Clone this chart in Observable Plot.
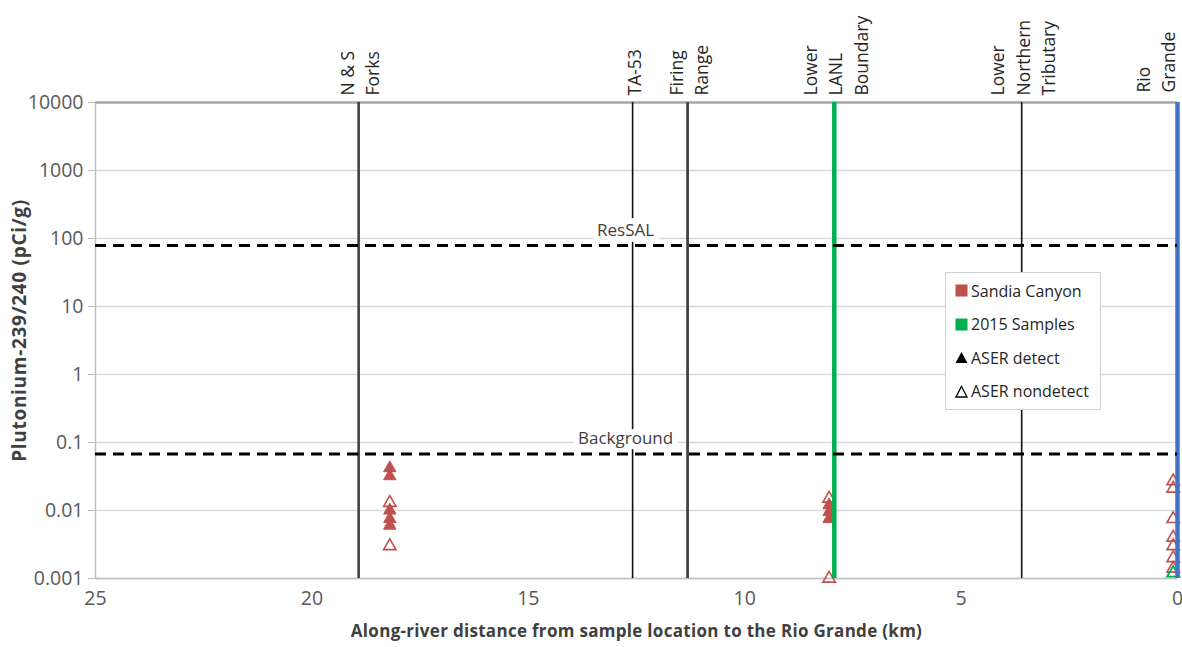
<!DOCTYPE html>
<html><head><meta charset="utf-8">
<script src="https://cdn.jsdelivr.net/npm/d3@7"></script>
<script src="https://cdn.jsdelivr.net/npm/@observablehq/plot@0.6"></script>
<style>
body{margin:0;background:#fff;font-family:"Open Sans",sans-serif}
#wrap{position:relative;width:1182px;height:647px;overflow:hidden}
#legend{position:absolute;left:945px;top:272px;width:156px;height:138px;border:1px solid #d0d0d0;background:#fff;box-sizing:border-box;padding:1px 0 0 9px;font-size:16px;color:#262626}
#legend div{height:33.5px;display:flex;align-items:center;white-space:nowrap}
#legend svg{margin-right:3px}
</style></head><body><div id="wrap"><div id="legend"></div></div>
<script>
// ---- data ----
const locationNames = ["N & S\nForks", "TA-53", "Firing\nRange", "Lower\nLANL\nBoundary", "Lower\nNorthern\nTributary", "Rio\nGrande"];
const locationKm = [18.92, 12.59, 11.32, 7.93, 3.6, 0];

const limitNames = ["ResSAL", "Background"];
const limitValues = [79, 0.068];

// Sandia Canyon, ASER detect (filled)
const detectKm = [18.2, 18.2, 18.2, 18.2, 18.2, 8.05, 8.05, 8.05];
const detectPu = [0.042, 0.032, 0.010, 0.0075, 0.006, 0.012, 0.0095, 0.0075];
// Sandia Canyon, ASER nondetect (open)
const nondetectKm = [18.2, 18.2, 8.05, 8.05, 0.1, 0.1, 0.1, 0.1, 0.1, 0.1, 0.1];
const nondetectPu = [0.013, 0.003, 0.015, 0.001, 0.027, 0.021, 0.0075, 0.004, 0.003, 0.002, 0.0014];
// 2015 Samples (nondetect)
const samples2015Km = [0.1];
const samples2015Pu = [0.0012];

const yTicks = [0.001, 0.01, 0.1, 1, 10, 100, 1000, 10000];
const xTicks = [0, 5, 10, 15, 20, 25];
const xTitle = "Along-river distance from sample location to the Rio Grande (km)";
const yTitle = "Plutonium-239/240 (pCi/g)";
const legendItems = ["Sandia Canyon", "2015 Samples", "ASER detect", "ASER nondetect"];

// ---- styles ----
const red = "#c0504d", green = "#00b050", blue = "#4472c4";
const lineStyles = {
  "N & S\nForks": {stroke: "#3a3a3a", w: 2.5},
  "TA-53": {stroke: "#111", w: 1.6},
  "Firing\nRange": {stroke: "#444", w: 2.8},
  "Lower\nLANL\nBoundary": {stroke: green, w: 4.5},
  "Lower\nNorthern\nTributary": {stroke: "#111", w: 1.6},
  "Rio\nGrande": {stroke: blue, w: 4.5}
};

const locations = locationNames.map((n, i) => ({name: n, km: locationKm[i]}));
const limits = limitNames.map((n, i) => ({name: n, v: limitValues[i]}));
const detect = detectKm.map((k, i) => ({km: k, v: detectPu[i]}));
const nondetect = nondetectKm.map((k, i) => ({km: k, v: nondetectPu[i]}));
const s2015 = samples2015Km.map((k, i) => ({km: k, v: samples2015Pu[i]}));
const taKm = locationKm[1];

const chart = Plot.plot({
  width: 1182, height: 647,
  marginLeft: 95, marginRight: 5, marginTop: 102, marginBottom: 69,
  style: {fontFamily: "Open Sans, sans-serif", fontSize: "19px", color: "#595959", background: "#fff"},
  x: {domain: [0, 25], reverse: true, ticks: xTicks, tickFormat: d => String(d)},
  y: {type: "log", domain: [0.001, 10000], ticks: yTicks, tickFormat: d => String(d)},
  marks: [
    Plot.ruleY(yTicks.slice(0, -1), {stroke: "#d9d9d9", strokeWidth: 1.5}),
    Plot.ruleY([10000], {stroke: "#a6a6a6", strokeWidth: 2.5}),
    Plot.ruleY([0.001], {stroke: "#bfbfbf", strokeWidth: 1.5}),
    Plot.ruleX([25], {stroke: "#bfbfbf", strokeWidth: 1.5}),
    Plot.axisY({ticks: yTicks, tickFormat: d => String(d), tickSize: 7, tickPadding: 5, stroke: "#bfbfbf", fill: "#595959", fontSize: 19.5, label: null}),
    Plot.axisX({ticks: xTicks, tickFormat: d => String(d), tickSize: 0, tickPadding: 13, fill: "#595959", fontSize: 19.5, label: null}),
    Plot.dot(detect, {x: "km", y: "v", symbol: "triangle", r: 4.6, fill: red, stroke: red, strokeWidth: 1}),
    Plot.dot(nondetect, {x: "km", y: "v", symbol: "triangle", r: 4.6, fill: "none", stroke: red, strokeWidth: 1.6}),
    Plot.dot(s2015, {x: "km", y: "v", symbol: "triangle", r: 4.6, fill: "none", stroke: green, strokeWidth: 1.8}),
    Plot.ruleX(locations, {x: "km", stroke: d => lineStyles[d.name].stroke, strokeWidth: d => lineStyles[d.name].w}),
    Plot.text(limits, {x: () => taKm, y: "v", text: "name", dx: -7, dy: -15, fill: "#404040", fontSize: 17, stroke: "white", strokeWidth: 12}),
    Plot.ruleY(limits, {y: "v", stroke: "#000", strokeWidth: 3, strokeDasharray: "11,7"}),
    Plot.text(locations.filter(d => d.km > 0), {x: "km", text: "name", frameAnchor: "top", rotate: -90, textAnchor: "start", lineAnchor: "middle", lineHeight: 1.45, dy: -7, fill: "#262626", fontSize: 17.5}),
    Plot.text(locations.filter(d => d.km === 0), {x: "km", text: "name", frameAnchor: "top", rotate: -90, textAnchor: "start", lineAnchor: "middle", lineHeight: 1.45, dy: -10, dx: -23, fill: "#262626", fontSize: 17.5}),
    Plot.text([xTitle], {frameAnchor: "bottom", dy: 58, fontWeight: "bold", fill: "#404040", fontSize: 17}),
    Plot.text([yTitle], {frameAnchor: "left", textAnchor: "middle", rotate: -90, dx: -76, dy: -10, fontWeight: "bold", fill: "#404040", fontSize: 19})
  ]
});
document.getElementById("wrap").prepend(chart);
d3.select(chart).selectAll("text").filter(function() { return this.textContent === xTitle; }).style("letter-spacing", "0.3px");
d3.select(chart).selectAll("text").filter(function() { return this.textContent === yTitle; }).style("letter-spacing", "0.7px");

// legend
const legendSym = [
  `<svg width="13" height="13"><rect x="0.5" y="0.5" width="12" height="12" fill="${red}"/></svg>`,
  `<svg width="13" height="13"><rect x="0.5" y="0.5" width="12" height="12" fill="${green}"/></svg>`,
  `<svg width="13" height="13"><path d="M6.5 1 L12.5 12 L0.5 12 Z" fill="#000"/></svg>`,
  `<svg width="13" height="13"><path d="M6.5 1.5 L12 12 L1 12 Z" fill="none" stroke="#000" stroke-width="1.3"/></svg>`
];
const lg = document.getElementById("legend");
legendItems.forEach((t, i) => {
  const d = document.createElement("div");
  d.innerHTML = legendSym[i] + `<span>${t}</span>`;
  lg.appendChild(d);
});
</script>
</body></html>
